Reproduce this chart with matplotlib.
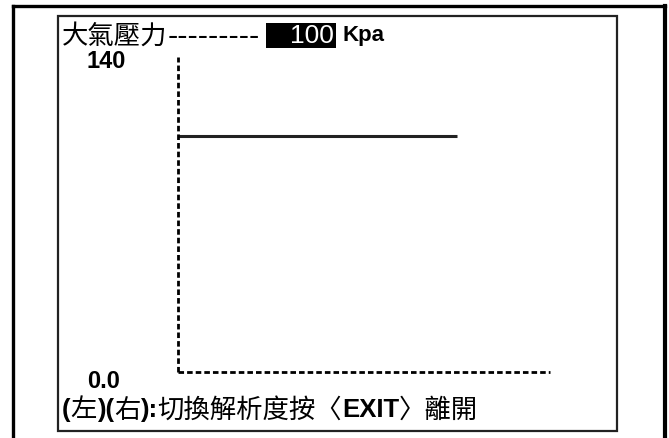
import matplotlib
matplotlib.use("Agg")
import matplotlib.pyplot as plt
from matplotlib.patches import Rectangle

# data
param_name = "大氣壓力"
unit = "Kpa"
current_value = 100
y_max = 140
y_min = 0.0
time_pts = [0, 75]
pressure = [100, 100]
footer_parts = [("(", "b"), ("左", "c"), (")(", "b"), ("右", "c"), ("):", "b"),
                ("切換解析度按〈", "c"), ("EXIT", "b"), ("〉離開", "c")]

W, H = 669, 438
CJK = ["Noto Sans CJK TC", "DejaVu Sans"]
LAT = ["Liberation Sans", "DejaVu Sans"]


def fx(px):
    return px / W


def fy(py):
    return 1 - py / H


fig = plt.figure(figsize=(W / 100, H / 100), dpi=100)
fig.patch.set_facecolor("white")

# outer frame (bottom edge runs off the picture)
fig.add_artist(plt.Line2D([fx(12.5), fx(12.5)], [fy(6), 0], color="black", lw=2.4, transform=fig.transFigure))
fig.add_artist(plt.Line2D([fx(12.5), fx(665)], [fy(6), fy(6)], color="black", lw=2.4, transform=fig.transFigure))
fig.add_artist(plt.Line2D([fx(665), fx(665)], [fy(6), 0], color="black", lw=3.0, transform=fig.transFigure))

# inner screen box
fig.add_artist(Rectangle((fx(58), fy(431)), fx(617) - fx(58), fy(16) - fy(431),
                         fill=False, edgecolor="#222222", lw=1.6, transform=fig.transFigure))

# plot area
ax = fig.add_axes([fx(178), fy(372), fx(550) - fx(178), fy(42) - fy(372)])
ax.set_xlim(0, 100)
ax.set_ylim(y_min, y_max)
ax.axis("off")
ax.plot(time_pts, pressure, color="#222222", lw=2.2, solid_capstyle="butt")
# dashed axis lines
ax.axvline(0, ymin=0, ymax=0.955, color="black", lw=2.0, dashes=(2.0, 1.1), clip_on=False)
ax.axhline(y_min, color="black", lw=2.0, dashes=(2.0, 1.1), clip_on=False)

# header
t = fig.text(fx(62), fy(36), param_name, family=CJK, fontsize=19, va="center", ha="left")
fig.canvas.draw()
bb = t.get_window_extent(fig.canvas.get_renderer())
fig.text(bb.x1 / W, fy(37), "-" * 9, family=LAT, fontsize=22, va="center", ha="left")

fig.add_artist(Rectangle((fx(266), fy(48)), fx(336) - fx(266), fy(23) - fy(48),
                         facecolor="black", edgecolor="none", transform=fig.transFigure))
fig.text(fx(334), fy(36), str(current_value), family=LAT, fontsize=19, color="white",
         va="center", ha="right")
fig.text(fx(342), fy(35), unit, family=LAT, fontsize=16, fontweight="bold", va="center", ha="left")

fig.text(fx(106), fy(62), f"{y_max}", family=LAT, fontsize=17, fontweight="bold", va="center", ha="center")
fig.text(fx(104), fy(381), f"{y_min}", family=LAT, fontsize=17, fontweight="bold", va="center", ha="center")

# footer, built piece by piece
x = 62
for s, kind in footer_parts:
    if kind == "b":
        tt = fig.text(x / W, fy(410), s, family=LAT, fontsize=18.5, fontweight="bold", va="center", ha="left")
    else:
        tt = fig.text(x / W, fy(410), s, family=CJK, fontsize=19, va="center", ha="left")
    fig.canvas.draw()
    x = tt.get_window_extent(fig.canvas.get_renderer()).x1

fig.savefig("out.png", dpi=100)
